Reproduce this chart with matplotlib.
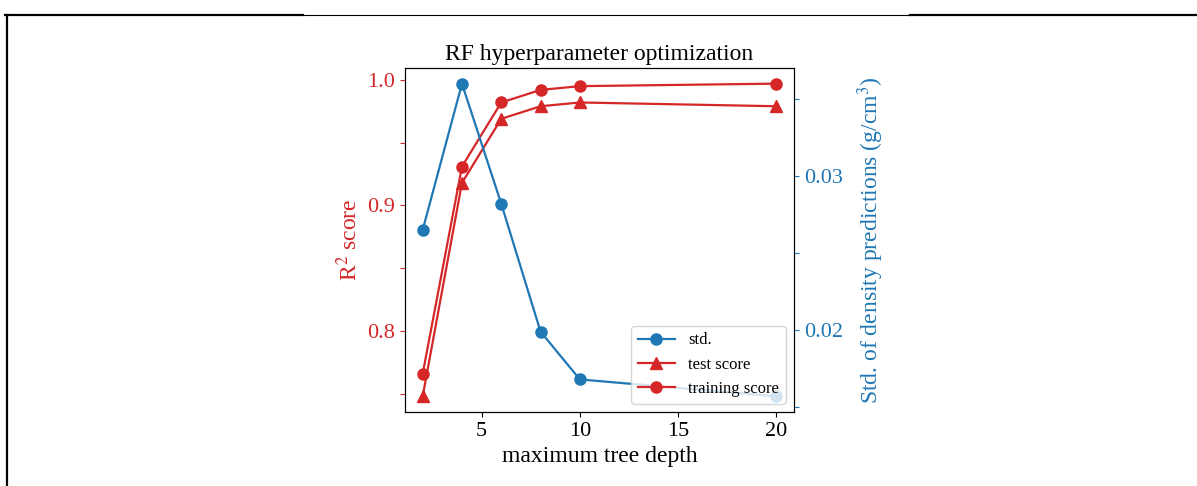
import matplotlib
matplotlib.use("Agg")
import matplotlib.pyplot as plt
from matplotlib.lines import Line2D
from matplotlib.ticker import MultipleLocator, FuncFormatter

plt.rcParams['font.family'] = ['Liberation Serif', 'DejaVu Serif']
plt.rcParams['mathtext.fontset'] = 'stix'

depth = [2, 4, 6, 8, 10, 20]
training_score = [0.766, 0.931, 0.982, 0.992, 0.995, 0.997]
test_score = [0.748, 0.918, 0.969, 0.979, 0.982, 0.979]
std_pred = [0.0265, 0.0360, 0.0282, 0.0199, 0.0168, 0.0157]

red = '#d62728'
blue = '#1f77b4'
fs = 16
lfs = 17

fig = plt.figure(figsize=(11.97, 4.86), dpi=100)
ax1 = fig.add_axes([405/1197, 1-412/486, (794-405)/1197, (412-68)/486])
ax2 = ax1.twinx()

l_test, = ax1.plot(depth, test_score, '-^', color=red, lw=1.6, ms=8, label='test score')
l_train, = ax1.plot(depth, training_score, '-o', color=red, lw=1.6, ms=8, label='training score')
l_std, = ax2.plot(depth, std_pred, '-o', color=blue, lw=1.6, ms=8, label='std.')

ax1.yaxis.set_major_locator(MultipleLocator(0.05))
ax1.yaxis.set_major_formatter(FuncFormatter(
    lambda v, p: f'{v:.1f}' if abs(round(v * 10) - v * 10) < 1e-6 else ''))
ax2.yaxis.set_major_locator(MultipleLocator(0.005))
ax2.yaxis.set_major_formatter(FuncFormatter(
    lambda v, p: f'{v:.2f}' if abs(round(v * 100) - v * 100) < 1e-6 else ''))
ax1.xaxis.set_major_locator(MultipleLocator(5))

ax1.tick_params(axis='y', colors=red, labelsize=fs)
ax1.tick_params(axis='x', labelsize=fs)
for t in ax1.yaxis.get_ticklines():
    t.set_color('black')
ax2.tick_params(axis='y', colors=blue, labelsize=fs)
for t in ax2.yaxis.get_ticklines():
    t.set_color('black')

ax1.set_xlabel('maximum tree depth', fontsize=lfs)
ax1.set_ylabel(r'R$^2$ score', color=red, fontsize=lfs)
ax2.set_ylabel(r'Std. of density predictions (g/cm$^3$)', color=blue, fontsize=lfs,
               labelpad=9)
ax1.set_title('RF hyperparameter optimization', fontsize=lfs)

ax2.legend(handles=[l_std, l_test, l_train], loc='lower right', fontsize=12,
           handlelength=2.2)

# document table border lines
y_top = 1 - 15/486
fig.add_artist(Line2D([5/1197, 303/1197], [y_top, y_top], color='black', lw=1.6))
fig.add_artist(Line2D([303/1197, 910/1197], [y_top, y_top], color='black', lw=0.8))
fig.add_artist(Line2D([910/1197, 1.0], [y_top, y_top], color='black', lw=1.6))
fig.add_artist(Line2D([6.5/1197, 6.5/1197], [0, y_top], color='black', lw=1.6))

fig.savefig('out.png', dpi=100)
